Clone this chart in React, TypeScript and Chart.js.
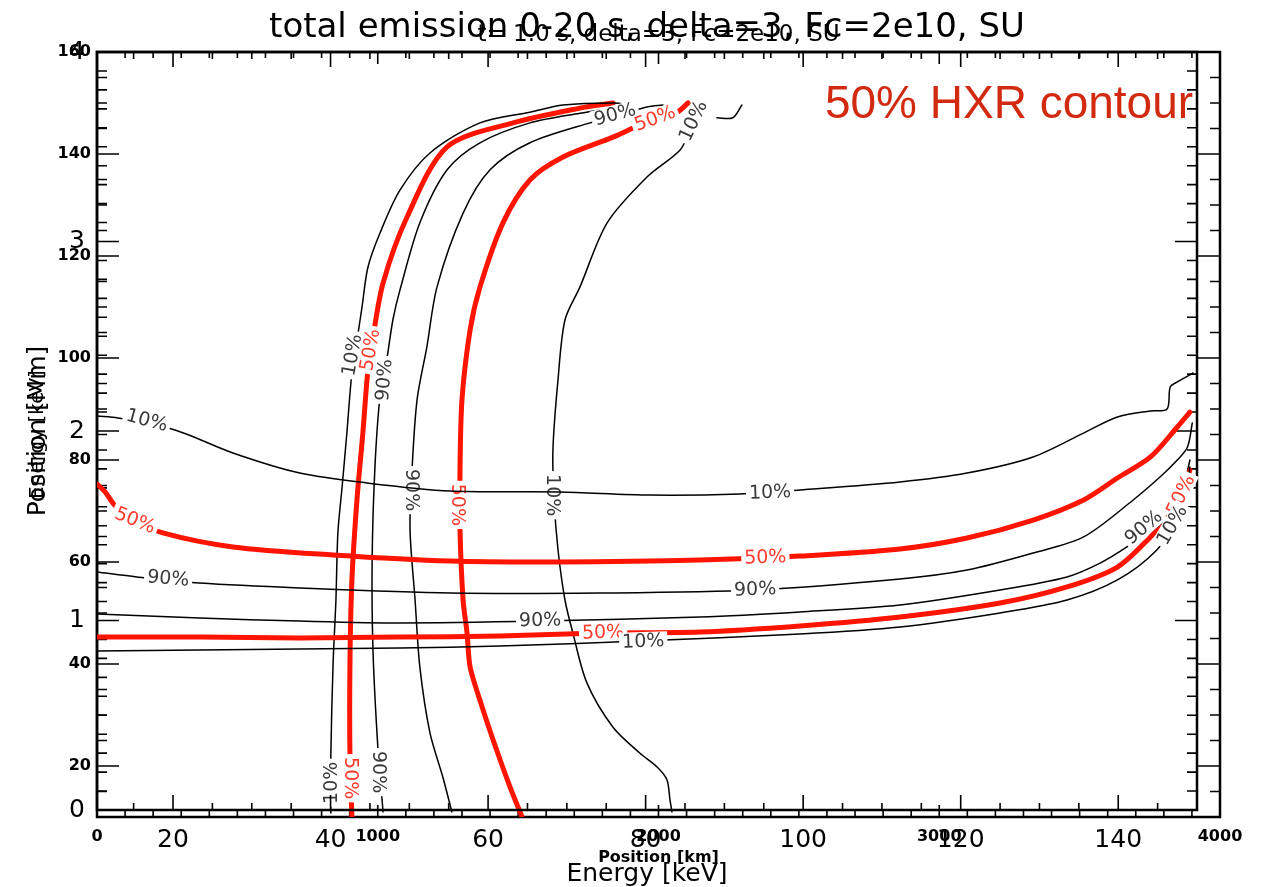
import React, { useEffect, useRef } from "react";
import { Chart, registerables } from "chart.js";

Chart.register(...registerables);

const FONT = "'DejaVu Sans', 'Noto Sans', sans-serif";
const BLACK = "#000000";
const RED = "#ff1400";

// ---------------- Figure "t = 1.0 s": x = Position [km], y = Energy [keV] ----------------
const titleA = "t= 1.0 s, delta=3, Fc=2e10, SU";
const kmTicks = [0, 1000, 2000, 3000, 4000];
const energyTicksY = [20, 40, 60, 80, 100, 120, 140, 160];

// 10% contour (left)
const vA10Km = [833, 833, 841, 851, 858, 873, 890, 908, 930, 944, 965, 1008, 1079, 1186, 1364, 1542, 1660, 1838, 1909];
const vA10KeV = [10.8, 22.5, 40.2, 52.5, 65.7, 74.7, 85.3, 97.1, 104.9, 110.0, 117.8, 124.5, 132.9, 140.2, 146.1, 148.2, 149.6, 150.0, 149.6];
// 50% contour (left)
const vA50Km = [908, 901, 901, 908, 926, 947, 965, 983, 1019, 1104, 1247, 1482, 1720, 1838];
const vA50KeV = [10.0, 21.8, 40.2, 56.5, 72.2, 85.3, 97.6, 104.1, 114.7, 127.6, 141.4, 146.1, 149.0, 150.0];
// 90% contour (left)
const vA90Km = [1019, 1001, 983, 980, 990, 1008, 1033, 1054, 1079, 1150, 1247, 1364, 1542, 1720, 1838, 1909];
const vA90KeV = [11.0, 23.1, 42.7, 60.4, 78.6, 92.4, 100.0, 107.5, 113.3, 126.5, 136.9, 142.2, 146.1, 148.0, 149.0, 149.6];
// 90% contour (right)
const vB90Km = [1264, 1232, 1186, 1150, 1133, 1115, 1122, 1140, 1175, 1211, 1304, 1400, 1542, 1756, 1845, 1959, 2016];
const vB90KeV = [11.0, 17.8, 26.5, 39.4, 52.5, 66.3, 78.0, 91.8, 102.2, 113.9, 128.4, 136.9, 142.2, 146.1, 147.3, 149.2, 149.6];
// 50% contour (right)
const vB50Km = [1514, 1471, 1411, 1364, 1329, 1318, 1304, 1293, 1293, 1300, 1329, 1364, 1446, 1542, 1660, 1838, 1909, 1987, 2066, 2105];
const vB50KeV = [10.0, 15.9, 25.1, 32.9, 39.4, 46.1, 52.5, 66.3, 78.0, 91.8, 105.5, 113.9, 126.5, 134.9, 139.4, 143.3, 145.1, 147.1, 148.2, 150.0];
// 10% contour (right)
const vB10Km = [2048, 2041, 2030, 1995, 1934, 1838, 1745, 1695, 1667, 1642, 1628, 1624, 1642, 1667, 1720, 1817, 1959, 2077, 2112, 2148];
const vB10KeV = [11.0, 13.3, 17.3, 19.8, 22.5, 27.6, 36.3, 46.1, 52.5, 62.4, 72.2, 82.0, 95.7, 107.5, 113.9, 126.5, 135.5, 140.8, 144.7, 148.6];
// small fragment at the top
const vFragKm = [2208, 2265, 2297];
const vFragKeV = [147.1, 147.1, 149.6];

// contour labels: [km, keV, text, angle (deg), red?]
const labelsA: [number, number, string, number, boolean][] = [
  [908, 100.6, "10%", -80, false],
  [972, 101.6, "50%", -80, true],
  [1022, 95.7, "90%", -85, false],
  [1122, 74.1, "90%", 90, false],
  [1286, 71.2, "50%", 90, true],
  [1624, 73.1, "10%", 90, false],
  [833, 16.7, "10%", -90, false],
  [905, 17.6, "50%", 90, true],
  [1004, 18.8, "90%", 90, false],
  [1845, 147.8, "90%", -15, false],
  [1987, 147.0, "50%", -20, true],
  [2123, 146.5, "10%", -65, false],
];

// ---------------- Figure "total emission": x = Energy [keV], y = Position [Mm] ----------------
const titleB = "total emission 0-20 s, delta=3, Fc=2e10, SU";
const energyTicksX = [20, 40, 60, 80, 100, 120, 140];
const mmTicks = [0, 1, 2, 3, 4];

// 10% contour (upper)
const h10TopKeV = [10.35, 13.0, 20.25, 27.6, 36.1, 44.6, 55.2, 69.1, 80.6, 92.0, 99.6, 112.3, 120.8, 129.2, 135.6, 139.9, 144.1, 146.2, 146.6, 147.5, 149.1, 149.5];
const h10TopMm = [2.079, 2.069, 2.005, 1.884, 1.778, 1.726, 1.683, 1.678, 1.662, 1.668, 1.689, 1.731, 1.778, 1.863, 1.989, 2.074, 2.106, 2.116, 2.232, 2.259, 2.296, 2.306];
// 50% contour (upper)
const h50TopKeV = [10.35, 11.4, 12.6, 15.2, 18.7, 27.6, 40.3, 55.2, 69.1, 86.9, 99.6, 112.3, 120.8, 129.2, 135.6, 139.9, 144.1, 147.5, 149.1];
const h50TopMm = [1.72, 1.678, 1.609, 1.53, 1.462, 1.388, 1.346, 1.314, 1.309, 1.319, 1.34, 1.377, 1.435, 1.53, 1.636, 1.752, 1.863, 2.021, 2.1];
// 90% contour (upper)
const h90TopKeV = [10.35, 15.4, 23.4, 36.1, 55.2, 74.2, 93.9, 112.3, 120.8, 129.2, 135.6, 141.9, 145.3, 147.5, 148.8, 149.4];
const h90TopMm = [1.256, 1.23, 1.198, 1.172, 1.145, 1.145, 1.161, 1.219, 1.266, 1.356, 1.441, 1.636, 1.757, 1.847, 1.916, 2.042];
// 90% contour (lower)
const h90LowKeV = [10.35, 23.4, 36.1, 48.8, 66.6, 86.9, 99.6, 112.3, 125.0, 133.5, 137.7, 141.1, 146.2, 148.8, 149.1];
const h90LowMm = [1.034, 1.013, 0.997, 0.987, 0.997, 1.018, 1.045, 1.082, 1.161, 1.23, 1.303, 1.388, 1.541, 1.741, 1.81];
// 50% contour (lower)
const h50LowKeV = [10.35, 23.4, 36.1, 48.8, 61.5, 74.2, 86.9, 99.6, 112.3, 125.0, 133.5, 139.9, 144.1, 146.2, 147.9, 149.1];
const h50LowMm = [0.913, 0.913, 0.908, 0.913, 0.918, 0.934, 0.939, 0.971, 1.018, 1.092, 1.177, 1.282, 1.441, 1.541, 1.652, 1.794];
// 10% contour (lower)
const h10LowKeV = [10.35, 23.4, 36.1, 48.8, 61.5, 79.3, 99.6, 112.3, 125.0, 133.5, 139.9, 144.9, 146.9, 148.5, 149.1];
const h10LowMm = [0.839, 0.844, 0.85, 0.855, 0.865, 0.892, 0.929, 0.966, 1.04, 1.108, 1.214, 1.372, 1.514, 1.741, 1.847];

const labelsB: [number, number, string, number, boolean][] = [
  [16.7, 2.058, "10%", 15, false],
  [15.2, 1.53, "50%", 22, true],
  [19.4, 1.224, "90%", 5, false],
  [95.8, 1.678, "10%", -2, false],
  [95.2, 1.335, "50%", -2, true],
  [93.9, 1.166, "90%", -2, false],
  [66.6, 1.003, "90%", -1, false],
  [74.6, 0.939, "50%", -2, true],
  [79.7, 0.892, "10%", -2, false],
  [143.2, 1.493, "90%", -40, false],
  [147.9, 1.662, "50%", -65, true],
  [146.8, 1.504, "10%", -60, false],
];

const noteText = "50% HXR contour";
const notePos = [149.5, 3.652]; // keV, Mm (right end of the text baseline)

// ---------------- helpers ----------------
const pts = (xs: number[], ys: number[]) => xs.map((x, i) => ({ x, y: ys[i] }));
const ds = (xs: number[], ys: number[], color: string, width: number) => ({
  data: pts(xs, ys),
  borderColor: color,
  backgroundColor: color,
  borderWidth: width,
  showLine: true,
  pointRadius: 0,
  tension: 0.3,
  fill: false,
  borderCapStyle: "round",
  borderJoinStyle: "round",
});

function makeFrame(xMinor: number, xMajor: number, xMin: number, xMaj: number, yMinor: number, yMajor: number, yMin: number, yMaj: number) {
  return {
    id: "idlFrame",
    beforeDatasetsDraw(chart: any) {
      const { ctx, chartArea: a } = chart;
      const xs = chart.scales.x;
      const ys = chart.scales.y;
      ctx.save();
      ctx.strokeStyle = "#000";
      ctx.lineWidth = 2.5;
      ctx.strokeRect(a.left, a.top, a.right - a.left, a.bottom - a.top);
      ctx.lineWidth = 1.6;
      ctx.beginPath();
      const rx = Math.round(xMajor / xMinor);
      for (let i = Math.ceil(xs.min / xMinor - 1e-9); i * xMinor <= xs.max + 1e-9; i++) {
        const p = xs.getPixelForValue(i * xMinor);
        const len = i % rx === 0 ? xMaj : xMin;
        ctx.moveTo(p, a.bottom);
        ctx.lineTo(p, a.bottom - len);
        ctx.moveTo(p, a.top);
        ctx.lineTo(p, a.top + len);
      }
      const ry = Math.round(yMajor / yMinor);
      for (let i = Math.ceil(ys.min / yMinor - 1e-9); i * yMinor <= ys.max + 1e-9; i++) {
        const p = ys.getPixelForValue(i * yMinor);
        const len = i % ry === 0 ? yMaj : yMin;
        ctx.moveTo(a.left, p);
        ctx.lineTo(a.left + len, p);
        ctx.moveTo(a.right, p);
        ctx.lineTo(a.right - len, p);
      }
      ctx.stroke();
      ctx.restore();
    },
  };
}

function makeLabels(items: [number, number, string, number, boolean][], note: boolean) {
  return {
    id: "contourLabels",
    afterDatasetsDraw(chart: any) {
      const { ctx } = chart;
      const xs = chart.scales.x;
      const ys = chart.scales.y;
      ctx.save();
      ctx.font = `19px ${FONT}`;
      ctx.textAlign = "center";
      ctx.textBaseline = "middle";
      for (const [x, y, t, r, red] of items) {
        const px = xs.getPixelForValue(x);
        const py = ys.getPixelForValue(y);
        ctx.save();
        ctx.translate(px, py);
        ctx.rotate((r * Math.PI) / 180);
        const w = ctx.measureText(t).width;
        ctx.fillStyle = "#ffffff";
        ctx.fillRect(-w / 2 - 3, -9, w + 6, 18);
        ctx.fillStyle = red ? "#ff3a2a" : "#3a3a3a";
        ctx.fillText(t, 0, 1);
        ctx.restore();
      }
      if (note) {
        ctx.font = `46px 'Liberation Sans', Arial, sans-serif`;
        ctx.textAlign = "right";
        ctx.textBaseline = "alphabetic";
        ctx.fillStyle = "#d22a10";
        ctx.fillText(noteText, xs.getPixelForValue(notePos[0]), ys.getPixelForValue(notePos[1]));
      }
      ctx.restore();
    },
  };
}

const tickList = (list: number[]) => (s: any) => {
  s.ticks = list.map((v) => ({ value: v }));
};

function configA(): any {
  return {
    type: "scatter",
    data: {
      datasets: [
        ds(vA10Km, vA10KeV, BLACK, 1.5),
        ds(vA50Km, vA50KeV, RED, 5),
        ds(vA90Km, vA90KeV, BLACK, 1.5),
        ds(vB90Km, vB90KeV, BLACK, 1.5),
        ds(vB50Km, vB50KeV, RED, 5),
        ds(vB10Km, vB10KeV, BLACK, 1.5),
        ds(vFragKm, vFragKeV, BLACK, 1.5),
      ],
    },
    options: {
      responsive: false,
      animation: false,
      devicePixelRatio: 1,
      events: [],
      layout: { padding: { left: 0, right: 49, top: 0, bottom: 0 } },
      plugins: {
        legend: { display: false },
        tooltip: { enabled: false },
        title: {
          display: true,
          text: titleA,
          fullSize: false,
          color: "#000",
          font: { family: FONT, size: 23, weight: "normal", lineHeight: 1.2 },
          padding: { top: 21, bottom: 3.4 },
        },
      },
      scales: {
        x: {
          type: "linear",
          position: "bottom",
          min: 0,
          max: 4000,
          afterBuildTicks: tickList(kmTicks),
          afterFit: (s: any) => {
            s.height = 70;
          },
          grid: { display: false, drawTicks: false },
          border: { display: false },
          ticks: {
            color: "#000",
            font: { family: FONT, size: 16, weight: "bold" },
            padding: 10,
            maxRotation: 0,
            minRotation: 0,
            autoSkip: false,
            callback: (v: any) => String(v),
          },
          title: {
            display: true,
            text: "Position [km]",
            color: "#000",
            font: { family: FONT, size: 16, weight: "bold", lineHeight: 1 },
            padding: { top: 0, bottom: 21 },
          },
        },
        y: {
          type: "linear",
          position: "left",
          min: 10,
          max: 160,
          afterBuildTicks: tickList(energyTicksY),
          afterFit: (s: any) => {
            s.width = 97;
          },
          grid: { display: false, drawTicks: false },
          border: { display: false },
          ticks: {
            color: "#000",
            font: { family: FONT, size: 16, weight: "bold" },
            padding: 6,
            autoSkip: false,
            callback: (v: any) => String(v),
          },
          title: {
            display: true,
            text: "Energy [keV]",
            color: "#000",
            font: { family: FONT, size: 20, weight: "normal", lineHeight: 1 },
            padding: { top: 28, bottom: 0 },
          },
        },
      },
    },
    plugins: [makeFrame(100, 1000, 6, 12, 5, 20, 10, 22), makeLabels(labelsA, false)],
  };
}

function configB(): any {
  return {
    type: "scatter",
    data: {
      datasets: [
        ds(h10TopKeV, h10TopMm, BLACK, 1.5),
        ds(h50TopKeV, h50TopMm, RED, 5),
        ds(h90TopKeV, h90TopMm, BLACK, 1.5),
        ds(h90LowKeV, h90LowMm, BLACK, 1.5),
        ds(h50LowKeV, h50LowMm, RED, 5),
        ds(h10LowKeV, h10LowMm, BLACK, 1.5),
      ],
    },
    options: {
      responsive: false,
      animation: false,
      devicePixelRatio: 1,
      events: [],
      layout: { padding: { left: 0, right: 72, top: 0, bottom: 0 } },
      plugins: {
        legend: { display: false },
        tooltip: { enabled: false },
        title: {
          display: true,
          text: titleB,
          fullSize: false,
          color: "#000",
          font: { family: FONT, size: 34, weight: "normal", lineHeight: 1.2 },
          padding: { top: 7.6, bottom: 3.6 },
        },
      },
      scales: {
        x: {
          type: "linear",
          position: "bottom",
          min: 10.35,
          max: 150,
          afterBuildTicks: tickList(energyTicksX),
          afterFit: (s: any) => {
            s.height = 77;
          },
          grid: { display: false, drawTicks: false },
          border: { display: false },
          ticks: {
            color: "#000",
            font: { family: FONT, size: 25, weight: "normal" },
            padding: 15,
            maxRotation: 0,
            minRotation: 0,
            autoSkip: false,
            callback: (v: any) => String(v),
          },
          title: {
            display: true,
            text: "Energy [keV]",
            color: "#000",
            font: { family: FONT, size: 25, weight: "normal", lineHeight: 1 },
            padding: { top: 0, bottom: 0 },
          },
        },
        y: {
          type: "linear",
          position: "left",
          min: 0,
          max: 4,
          afterBuildTicks: tickList(mmTicks),
          afterFit: (s: any) => {
            s.width = 97;
          },
          grid: { display: false, drawTicks: false },
          border: { display: false },
          ticks: {
            color: "#000",
            font: { family: FONT, size: 25, weight: "normal" },
            padding: 12,
            autoSkip: false,
            callback: (v: any) => String(v),
          },
          title: {
            display: true,
            text: "Position [Mm]",
            color: "#000",
            font: { family: FONT, size: 25, weight: "normal", lineHeight: 1 },
            padding: { top: 26, bottom: 0 },
          },
        },
      },
    },
    plugins: [makeFrame(5, 20, 7, 15, 0.1, 1, 10, 22), makeLabels(labelsB, true)],
  };
}

export default function App() {
  const refA = useRef<HTMLCanvasElement>(null);
  const refB = useRef<HTMLCanvasElement>(null);

  useEffect(() => {
    const a = new Chart(refA.current as HTMLCanvasElement, configA());
    const b = new Chart(refB.current as HTMLCanvasElement, configB());
    return () => {
      a.destroy();
      b.destroy();
    };
  }, []);

  return (
    <div style={{ position: "absolute", left: 0, top: 0, width: 1269, height: 887, background: "#ffffff", overflow: "hidden" }}>
      <canvas ref={refA} width={1269} height={887} style={{ position: "absolute", left: 0, top: 0 }} />
      <canvas ref={refB} width={1269} height={887} style={{ position: "absolute", left: 0, top: 0 }} />
    </div>
  );
}
